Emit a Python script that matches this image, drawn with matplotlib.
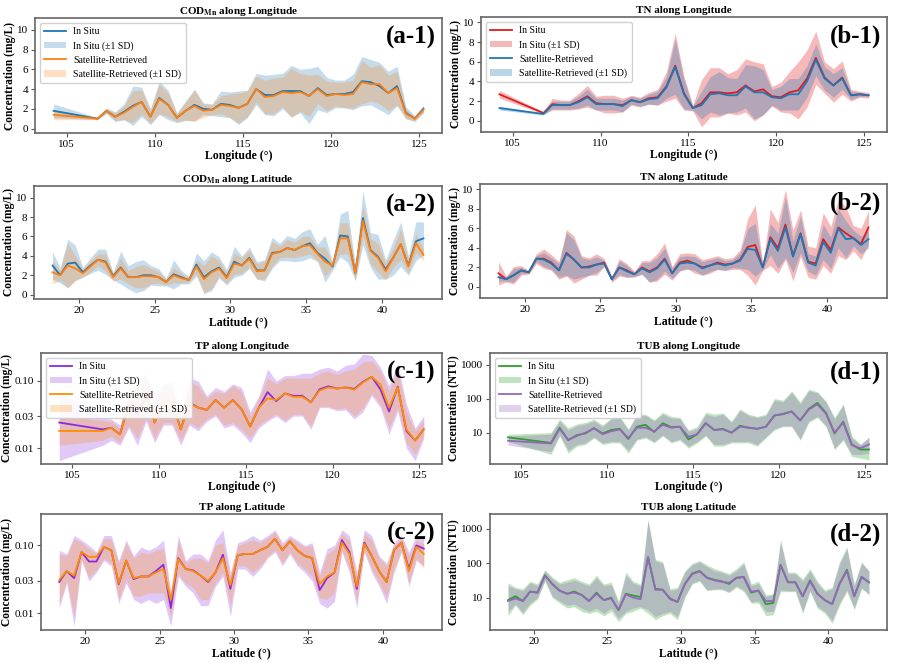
import numpy as np
import matplotlib
matplotlib.use("Agg")
import matplotlib.pyplot as plt
from matplotlib.ticker import FixedLocator, FormatStrFormatter, NullLocator, MultipleLocator

plt.rcParams['font.family'] = ['Liberation Serif', 'DejaVu Serif']
plt.rcParams['mathtext.fontset'] = 'stix'

# ======= Data: bin centres =======
lon = [104.25, 106.75, 107.25, 107.75, 108.25, 108.75, 109.25, 109.75, 110.25, 110.75,
       111.25, 111.75, 112.25, 112.75, 113.25, 113.75, 114.25, 114.75, 115.25, 115.75,
       116.25, 116.75, 117.25, 117.75, 118.25, 118.75, 119.25, 119.75, 120.25, 120.75,
       121.25, 121.75, 122.25, 122.75, 123.25, 123.75, 124.25, 124.75, 125.25]
lat = [18.25, 18.75, 19.25, 19.75, 20.25, 20.75, 21.25, 21.75, 22.25, 22.75,
       23.25, 23.75, 24.25, 24.75, 25.25, 25.75, 26.25, 26.75, 27.25, 27.75,
       28.25, 28.75, 29.25, 29.75, 30.25, 30.75, 31.25, 31.75, 32.25, 32.75,
       33.25, 33.75, 34.25, 34.75, 35.25, 35.75, 36.25, 36.75, 37.25, 37.75,
       38.25, 38.75, 39.25, 39.75, 40.25, 40.75, 41.25, 41.75, 42.25, 42.75]

# ======= COD_Mn (mean, sd) =======
cod_lon_insitu = [1.8, 1.0, 1.8, 1.2, 1.7, 2.3, 2.7, 1.2, 3.1, 2.4, 1.1, 1.8, 2.4, 2.0, 1.9, 2.5, 2.4, 2.1, 2.5, 4.0,
                  3.4, 3.4, 3.8, 3.8, 3.8, 3.3, 4.1, 3.4, 3.5, 3.5, 3.7, 4.8, 4.7, 4.3, 3.6, 4.3, 1.6, 1.0, 2.0]
cod_lon_insitu_sd = [0.7, 0.1, 0.3, 0.5, 0.8, 2.0, 1.5, 0.8, 1.7, 1.5, 0.5, 1.0, 1.6, 0.6, 0.6, 1.3, 1.3, 1.7, 1.4, 1.6,
                     2.0, 2.1, 1.8, 2.6, 2.2, 2.8, 2.2, 1.8, 1.4, 1.4, 1.8, 2.5, 2.3, 2.4, 2.2, 2.0, 0.6, 0.3, 0.4]
cod_lon_sat = [1.4, 1.0, 1.8, 1.2, 1.6, 2.2, 2.7, 1.2, 3.0, 2.4, 1.1, 1.8, 2.3, 1.8, 1.9, 2.4, 2.3, 2.1, 2.5, 4.0,
               3.2, 3.3, 3.7, 3.6, 3.7, 3.3, 4.0, 3.3, 3.5, 3.4, 3.5, 4.7, 4.5, 4.5, 3.6, 4.1, 1.5, 1.0, 1.9]
cod_lon_sat_sd = [0.5, 0.1, 0.2, 0.4, 0.7, 1.6, 1.2, 0.7, 1.5, 1.2, 0.4, 0.9, 1.6, 0.7, 0.5, 0.9, 1.2, 1.5, 1.3, 1.3,
                  1.7, 1.8, 1.5, 2.5, 1.9, 2.1, 1.5, 1.5, 1.2, 1.3, 1.4, 2.2, 1.7, 2.0, 1.8, 1.7, 0.5, 0.2, 0.3]

cod_lat_insitu = [3.0, 2.0, 3.2, 3.3, 2.3, 3.0, 3.6, 3.4, 1.9, 2.8, 1.8, 1.8, 2.0, 2.0, 1.8, 1.3, 2.1, 1.8, 1.5, 3.1,
                  1.8, 2.4, 2.8, 1.8, 3.4, 3.0, 3.8, 2.5, 2.5, 4.3, 4.4, 4.8, 4.6, 5.0, 5.3, 4.3, 3.7, 2.9, 6.1, 6.0,
                  2.2, 7.9, 4.6, 3.9, 2.6, 3.8, 5.2, 3.0, 5.5, 5.8]
cod_lat_insitu_sd = [1.4, 0.8, 2.5, 1.8, 0.5, 0.8, 1.1, 1.3, 0.4, 1.7, 1.2, 1.6, 1.6, 1.0, 0.9, 0.4, 1.5, 0.7, 0.4, 1.2,
                     1.7, 2.0, 1.1, 0.8, 1.6, 1.0, 1.1, 0.9, 1.1, 1.6, 0.9, 1.3, 1.2, 1.5, 1.5, 0.9, 2.4, 0.4, 2.2, 2.7,
                     0.8, 2.8, 1.8, 2.3, 1.0, 1.8, 2.3, 1.0, 2.0, 1.7]
cod_lat_sat = [2.3, 2.0, 3.0, 2.7, 2.2, 2.9, 3.6, 3.3, 1.8, 2.7, 1.8, 1.8, 1.9, 1.9, 1.8, 1.3, 2.0, 1.7, 1.5, 2.9,
               1.6, 2.3, 2.7, 1.7, 3.2, 3.0, 3.7, 2.4, 2.5, 4.2, 4.4, 4.8, 4.6, 5.0, 5.1, 4.2, 3.4, 3.0, 5.8, 5.8,
               2.2, 7.6, 4.5, 3.8, 2.4, 3.8, 5.2, 2.9, 5.3, 4.1]
cod_lat_sat_sd = [1.2, 0.5, 2.3, 1.3, 0.4, 0.6, 0.6, 0.9, 0.4, 1.1, 0.7, 1.1, 1.2, 0.8, 0.6, 0.3, 0.8, 0.5, 0.2, 0.7,
                  1.4, 1.7, 0.8, 0.6, 1.1, 0.8, 0.9, 0.8, 0.9, 1.3, 0.6, 0.9, 0.8, 1.0, 0.9, 0.7, 1.5, 0.2, 1.6, 1.6,
                  0.7, 1.6, 1.3, 1.5, 0.9, 1.0, 1.6, 0.7, 1.0, 0.6]

# ======= TN (mean, sd) =======
tn_lon_insitu = [2.7, 0.8, 1.7, 1.6, 1.6, 2.0, 2.5, 1.8, 1.7, 1.7, 1.6, 2.1, 1.9, 2.3, 2.4, 3.5, 5.6, 2.8, 1.3, 1.8,
                 2.9, 2.9, 2.8, 2.9, 3.6, 3.0, 3.2, 2.5, 2.4, 2.9, 3.1, 4.3, 6.4, 4.4, 3.6, 4.4, 2.6, 2.7, 2.6]
tn_lon_insitu_sd = [0.4, 0.1, 0.6, 0.5, 0.5, 0.8, 1.1, 0.7, 0.9, 0.9, 0.7, 0.5, 0.5, 0.6, 0.8, 1.5, 3.3, 1.7, 0.3, 2.4,
                    2.5, 2.5, 2.0, 2.3, 2.7, 3.0, 2.6, 1.0, 1.5, 2.1, 2.9, 2.9, 2.7, 1.6, 1.7, 1.7, 0.6, 0.3, 0.3]
tn_lon_sat = [1.3, 0.7, 1.6, 1.6, 1.6, 1.9, 2.4, 1.7, 1.7, 1.7, 1.5, 2.1, 1.9, 2.2, 2.3, 3.4, 5.5, 2.7, 1.3, 1.6,
              2.7, 2.8, 2.6, 2.6, 3.5, 2.9, 2.9, 2.4, 2.3, 2.7, 2.7, 4.0, 6.2, 4.3, 3.6, 4.3, 2.6, 2.7, 2.6]
tn_lon_sat_sd = [0.2, 0.1, 0.4, 0.4, 0.4, 0.6, 0.8, 0.6, 0.6, 0.6, 0.6, 0.4, 0.4, 0.5, 0.7, 1.1, 2.8, 1.5, 0.2, 1.4,
                 1.8, 2.2, 1.8, 1.7, 2.2, 2.7, 2.3, 0.8, 1.2, 1.6, 1.6, 1.6, 1.6, 1.2, 1.2, 1.1, 0.4, 0.2, 0.1]

tn_lat_insitu = [1.4, 0.8, 1.2, 1.7, 1.5, 2.9, 2.9, 2.5, 1.7, 3.5, 2.8, 2.0, 2.1, 2.3, 2.5, 0.8, 2.0, 1.7, 1.3, 2.0,
                 1.6, 2.0, 2.9, 1.4, 2.5, 2.7, 2.4, 2.0, 2.2, 2.5, 2.3, 2.4, 2.8, 4.1, 4.3, 2.0, 5.1, 4.0, 6.4, 3.2,
                 5.5, 2.6, 2.4, 4.9, 3.8, 6.1, 5.5, 5.0, 4.4, 6.1]
tn_lat_insitu_sd = [1.2, 0.3, 0.9, 0.5, 0.2, 0.5, 1.0, 0.8, 0.9, 2.4, 2.4, 1.2, 0.9, 1.1, 0.4, 0.3, 0.9, 0.7, 0.3, 0.7,
                    1.1, 1.4, 1.6, 0.7, 0.9, 0.8, 1.0, 0.8, 0.8, 0.7, 0.6, 0.6, 1.0, 2.9, 4.1, 0.3, 2.9, 2.6, 3.6, 2.6,
                    2.4, 1.6, 1.6, 2.7, 2.4, 2.9, 2.7, 1.3, 1.6, 1.7]
tn_lat_sat = [1.0, 0.8, 1.2, 1.7, 1.5, 2.9, 2.8, 2.4, 1.7, 3.4, 2.8, 2.0, 2.0, 2.3, 2.4, 0.8, 2.0, 1.6, 1.3, 1.9,
              1.5, 1.9, 2.8, 1.4, 2.4, 2.5, 2.4, 1.9, 2.2, 2.4, 2.2, 2.4, 2.7, 3.9, 3.8, 2.0, 4.9, 3.7, 6.1, 3.1,
              5.4, 2.5, 2.2, 4.6, 3.5, 6.0, 4.9, 5.0, 4.3, 4.9]
tn_lat_sat_sd = [0.4, 0.2, 0.7, 0.3, 0.1, 0.3, 0.7, 0.6, 0.7, 2.2, 2.0, 1.0, 0.8, 0.8, 0.3, 0.2, 0.7, 0.6, 0.2, 0.6,
                 1.0, 1.1, 1.2, 0.5, 0.7, 0.7, 0.7, 0.7, 0.6, 0.6, 0.5, 0.4, 0.8, 2.1, 2.7, 0.2, 1.6, 1.8, 3.1, 1.6,
                 1.9, 0.9, 1.0, 1.8, 1.6, 2.0, 1.9, 0.8, 0.9, 0.9]

# ======= TP (mean, band low / high; log axis) =======
tp_lon_insitu = [0.024, 0.019, 0.020, 0.016, 0.045, 0.031, 0.058, 0.024, 0.050, 0.050, 0.019, 0.048, 0.040, 0.037,
                 0.052, 0.040, 0.052, 0.038, 0.021, 0.040, 0.068, 0.050, 0.065, 0.060, 0.060, 0.048, 0.075, 0.083,
                 0.077, 0.080, 0.076, 0.097, 0.115, 0.075, 0.035, 0.082, 0.018, 0.013, 0.019]
tp_lon_insitu_lo = [0.0065, 0.011, 0.013, 0.011, 0.020, 0.011, 0.025, 0.012, 0.022, 0.022, 0.011, 0.022, 0.018, 0.025,
                    0.030, 0.020, 0.022, 0.017, 0.012, 0.020, 0.025, 0.030, 0.024, 0.030, 0.030, 0.019, 0.040, 0.040,
                    0.036, 0.037, 0.027, 0.035, 0.060, 0.040, 0.016, 0.035, 0.010, 0.0065, 0.014]
tp_lon_insitu_hi = [0.070, 0.028, 0.027, 0.022, 0.060, 0.090, 0.130, 0.060, 0.090, 0.095, 0.030, 0.110, 0.100, 0.060,
                    0.080, 0.070, 0.090, 0.080, 0.035, 0.060, 0.150, 0.100, 0.120, 0.120, 0.130, 0.130, 0.150, 0.160,
                    0.140, 0.170, 0.180, 0.250, 0.240, 0.160, 0.085, 0.180, 0.045, 0.020, 0.030]
tp_lon_sat = [0.018, 0.018, 0.020, 0.016, 0.045, 0.040, 0.058, 0.024, 0.050, 0.050, 0.019, 0.046, 0.040, 0.037,
              0.052, 0.040, 0.052, 0.038, 0.021, 0.040, 0.055, 0.052, 0.065, 0.058, 0.058, 0.048, 0.072, 0.080,
              0.077, 0.080, 0.074, 0.095, 0.115, 0.088, 0.040, 0.080, 0.019, 0.013, 0.019]
tp_lon_sat_lo = [0.011, 0.013, 0.015, 0.012, 0.022, 0.014, 0.028, 0.014, 0.024, 0.024, 0.013, 0.024, 0.020, 0.027,
                 0.032, 0.022, 0.024, 0.019, 0.014, 0.022, 0.027, 0.032, 0.026, 0.032, 0.032, 0.021, 0.042, 0.042,
                 0.038, 0.040, 0.030, 0.040, 0.065, 0.045, 0.020, 0.040, 0.012, 0.008, 0.015]
tp_lon_sat_hi = [0.030, 0.026, 0.025, 0.020, 0.080, 0.085, 0.110, 0.045, 0.085, 0.080, 0.028, 0.095, 0.085, 0.055,
                 0.070, 0.065, 0.085, 0.070, 0.030, 0.055, 0.110, 0.090, 0.110, 0.110, 0.110, 0.110, 0.130, 0.140,
                 0.125, 0.140, 0.150, 0.190, 0.200, 0.140, 0.070, 0.150, 0.035, 0.018, 0.026]

tp_lat_insitu = [0.029, 0.042, 0.033, 0.080, 0.058, 0.058, 0.095, 0.085, 0.027, 0.060, 0.032, 0.035, 0.035, 0.042,
                 0.052, 0.012, 0.065, 0.045, 0.043, 0.036, 0.029, 0.040, 0.073, 0.023, 0.072, 0.075, 0.075, 0.085,
                 0.095, 0.125, 0.085, 0.115, 0.085, 0.070, 0.065, 0.022, 0.033, 0.040, 0.120, 0.080, 0.023, 0.110,
                 0.070, 0.042, 0.029, 0.085, 0.110, 0.045, 0.100, 0.090]
tp_lat_insitu_lo = [0.012, 0.028, 0.0065, 0.060, 0.030, 0.040, 0.060, 0.050, 0.014, 0.028, 0.016, 0.014, 0.016, 0.014,
                    0.016, 0.0065, 0.035, 0.025, 0.020, 0.013, 0.013, 0.025, 0.035, 0.009, 0.045, 0.045, 0.035, 0.045,
                    0.065, 0.080, 0.050, 0.075, 0.050, 0.040, 0.030, 0.014, 0.012, 0.015, 0.080, 0.040, 0.012, 0.080,
                    0.040, 0.025, 0.014, 0.040, 0.080, 0.025, 0.060, 0.050]
tp_lat_insitu_hi = [0.085, 0.075, 0.140, 0.120, 0.100, 0.080, 0.140, 0.140, 0.060, 0.120, 0.070, 0.095, 0.085, 0.095,
                    0.120, 0.020, 0.140, 0.060, 0.075, 0.075, 0.060, 0.120, 0.170, 0.040, 0.110, 0.120, 0.140, 0.120,
                    0.140, 0.170, 0.110, 0.140, 0.120, 0.100, 0.110, 0.040, 0.090, 0.100, 0.170, 0.140, 0.040, 0.170,
                    0.140, 0.070, 0.055, 0.110, 0.140, 0.080, 0.140, 0.140]
tp_lat_sat = [0.031, 0.042, 0.036, 0.080, 0.068, 0.068, 0.095, 0.085, 0.028, 0.060, 0.033, 0.035, 0.035, 0.040,
              0.045, 0.016, 0.063, 0.045, 0.042, 0.036, 0.030, 0.040, 0.065, 0.026, 0.072, 0.075, 0.075, 0.085,
              0.095, 0.125, 0.085, 0.115, 0.085, 0.070, 0.065, 0.027, 0.035, 0.040, 0.110, 0.075, 0.025, 0.105,
              0.070, 0.042, 0.029, 0.085, 0.110, 0.042, 0.095, 0.075]
tp_lat_sat_lo = [0.014, 0.030, 0.009, 0.062, 0.034, 0.044, 0.064, 0.055, 0.016, 0.032, 0.018, 0.018, 0.020, 0.020,
                 0.020, 0.009, 0.038, 0.028, 0.024, 0.016, 0.016, 0.028, 0.040, 0.013, 0.050, 0.050, 0.040, 0.050,
                 0.068, 0.085, 0.055, 0.080, 0.055, 0.045, 0.035, 0.017, 0.016, 0.020, 0.085, 0.045, 0.015, 0.085,
                 0.045, 0.028, 0.017, 0.045, 0.085, 0.028, 0.065, 0.045]
tp_lat_sat_hi = [0.075, 0.070, 0.125, 0.110, 0.090, 0.075, 0.125, 0.125, 0.055, 0.110, 0.065, 0.080, 0.075, 0.085,
                 0.090, 0.020, 0.120, 0.055, 0.065, 0.065, 0.055, 0.100, 0.110, 0.035, 0.100, 0.110, 0.120, 0.110,
                 0.130, 0.160, 0.100, 0.130, 0.110, 0.095, 0.100, 0.035, 0.075, 0.090, 0.150, 0.120, 0.035, 0.150,
                 0.120, 0.065, 0.050, 0.100, 0.130, 0.070, 0.120, 0.105]

# ======= TUB (mean, band low / high; log axis) =======
tub_lon_insitu = [7.3, 5.0, 14, 6.0, 8.5, 9.5, 13.5, 9.5, 12, 13, 6.5, 15, 17, 10.5, 19, 14.5, 15, 6.3, 9, 19,
                  12, 13, 10, 16, 14, 13, 15, 32, 35, 42, 23, 50, 75, 38, 9.5, 21, 4.5, 3.2, 3.2]
tub_lon_insitu_lo = [5.5, 2.3, 8, 2.5, 4, 4.5, 7, 4.5, 5, 5, 2.5, 6, 7, 5, 8, 5, 6, 3.5, 5, 8,
                     4, 4, 5, 5, 5, 4, 7, 12, 15, 15, 6, 20, 28, 15, 3.2, 6, 2, 1.8, 1.6]
tub_lon_insitu_hi = [9, 10, 25, 14, 18, 20, 25, 17, 27, 30, 13, 35, 35, 24, 40, 30, 28, 12, 15, 40,
                     35, 38, 22, 50, 35, 30, 35, 100, 90, 170, 80, 190, 160, 85, 28, 70, 8, 4.5, 7]
tub_lon_sat = [5.8, 4.8, 13, 6.2, 8, 10, 13.5, 9, 11, 12.5, 7, 14, 14, 11, 17, 14, 15, 7.5, 9, 19,
               12, 12.5, 10, 15, 14, 13, 15, 32, 36, 42, 23, 48, 68, 36, 10, 20, 4.3, 3.5, 4.5]
tub_lon_sat_lo = [4.3, 2.8, 8.5, 3, 4.5, 5, 7.5, 5, 5.5, 5.5, 3, 6.5, 7.5, 5.5, 8.5, 5.5, 6.5, 4, 5.5, 8.5,
                  4.5, 4.5, 5.5, 5.5, 5.5, 4.5, 7.5, 13, 16, 16, 6.5, 22, 30, 16, 3.5, 6.5, 2.3, 2.3, 2.5]
tub_lon_sat_hi = [8, 9, 22, 12, 16, 18, 22, 15, 25, 27, 12, 32, 32, 22, 35, 27, 26, 11, 13, 35,
                  30, 35, 20, 45, 32, 28, 32, 90, 80, 150, 70, 170, 150, 80, 25, 65, 7, 4.5, 7.5]

tub_lat_insitu = [8.5, 11, 8, 15, 14, 45, 25, 16, 13, 15, 12, 8, 14, 8.5, 10, 4.3, 13, 11.5, 10.5, 150,
                  18, 17, 9.5, 7.5, 25, 50, 60, 38, 33, 30, 25, 38, 40, 14, 16, 6.5, 7, 90, 28, 28,
                  11, 32, 13, 8.5, 6.5, 25, 65, 11, 40, 28]
tub_lat_insitu_lo = [3, 6, 3.2, 6, 9, 30, 10, 7, 5, 5.5, 4, 3.5, 4, 3, 4, 2, 3.5, 4, 5, 3.5,
                     2.3, 3, 3.5, 2.3, 10, 25, 30, 16, 17, 17, 14, 20, 15, 7, 7, 3, 3.2, 15, 15, 15,
                     3.5, 15, 5, 3.5, 1.8, 6, 15, 4.5, 18, 13]
tub_lat_insitu_hi = [27, 20, 18, 30, 25, 65, 40, 28, 33, 38, 30, 25, 45, 25, 28, 8, 55, 30, 25, 1900,
                     130, 110, 18, 20, 60, 100, 120, 90, 70, 60, 50, 70, 110, 25, 30, 12, 13, 480, 55, 55,
                     35, 70, 30, 17, 20, 110, 300, 25, 110, 60]
tub_lat_sat = [8, 9.5, 8, 15, 14, 43, 25, 16, 13, 14, 12, 8, 13, 8.5, 9.5, 4.5, 12.5, 10, 9, 150,
               17, 17, 9, 7.5, 25, 48, 58, 38, 32, 29, 27, 37, 40, 15, 16, 8, 8, 88, 28, 28,
               11, 30, 13, 8.5, 6.5, 25, 60, 11, 40, 28]
tub_lat_sat_lo = [4, 6.5, 3.8, 7, 10, 32, 11, 8, 6, 6.5, 5, 4, 5, 3.5, 5, 2.5, 4, 5, 5.5, 4.5,
                  2.8, 3.5, 4, 2.8, 11, 27, 32, 17, 18, 18, 15, 22, 17, 7.5, 8, 4, 4, 17, 16, 16,
                  4, 16, 5.5, 4, 2.2, 7, 17, 5, 20, 12]
tub_lat_sat_hi = [22, 18, 16, 27, 22, 60, 35, 25, 28, 32, 26, 22, 38, 22, 24, 7, 45, 26, 22, 1700,
                  115, 100, 16, 18, 55, 90, 110, 80, 60, 55, 45, 60, 95, 22, 26, 11, 12, 420, 50, 50,
                  30, 60, 26, 15, 18, 95, 260, 22, 100, 60]


def sd_band(mean, sd):
    m = np.array(mean)
    s = np.array(sd)
    return m - s, m + s


def rect(l, t, r, b):
    # pixel box -> figure fraction
    return [l / 900, 1 - b / 663, (r - l) / 900, (b - t) / 663]


def draw(ax, x, m1, band1, c1, m2, band2, c2, title, xlabel, ylabel, tag,
         legend=False, log=False, ylim=None, a1=0.25, a2=0.25):
    ax.plot(x, m1, color=c1, lw=1.3, label='In Situ')
    ax.fill_between(x, band1[0], band1[1], color=c1, alpha=a1, lw=0, label='In Situ (±1 SD)')
    ax.plot(x, m2, color=c2, lw=1.3, label='Satellite-Retrieved')
    ax.fill_between(x, band2[0], band2[1], color=c2, alpha=a2, lw=0, label='Satellite-Retrieved (±1 SD)')
    if log:
        ax.set_yscale('log')
    else:
        ax.yaxis.set_major_locator(MultipleLocator(2))
    if ylim:
        ax.set_ylim(ylim)
    ax.set_title(title, fontsize=8, fontweight='bold', pad=3)
    ax.set_xlabel(xlabel, fontsize=8.5, fontweight='bold', labelpad=1)
    ax.set_ylabel(ylabel, fontsize=8.3, fontweight='bold', labelpad=1)
    ax.tick_params(labelsize=8, length=3, width=0.8, pad=2, color='#555555')
    for s in ax.spines.values():
        s.set_color('#666666')
        s.set_linewidth(1.2)
    ax.text(0.985, 0.93, tag, transform=ax.transAxes, ha='right', va='top',
            fontsize=18, fontweight='bold')
    if legend:
        ax.legend(loc='upper left', fontsize=7, framealpha=0.9, borderpad=0.45,
                  labelspacing=0.5, handlelength=2.2, handletextpad=0.8)


fig = plt.figure(figsize=(9, 6.63), dpi=100)

ax = fig.add_axes(rect(35, 18, 442, 133))
draw(ax, lon, cod_lon_insitu, sd_band(cod_lon_insitu, cod_lon_insitu_sd), '#1f77b4',
     cod_lon_sat, sd_band(cod_lon_sat, cod_lon_sat_sd), '#ff7f0e',
     r'COD$_{\mathbf{Mn}}$ along Longitude', 'Longitude (°)', 'Concentration (mg/L)', '(a-1)',
     legend=True, ylim=(-0.45, 11.2))

ax = fig.add_axes(rect(481, 17, 887, 132))
draw(ax, lon, tn_lon_insitu, sd_band(tn_lon_insitu, tn_lon_insitu_sd), '#e31a1c',
     tn_lon_sat, sd_band(tn_lon_sat, tn_lon_sat_sd), '#1f77b4',
     'TN along Longitude', 'Longitude (°)', 'Concentration (mg/L)', '(b-1)',
     legend=True, ylim=(-1.13, 10.55), a1=0.3, a2=0.3)

ax = fig.add_axes(rect(34, 186, 442, 299))
draw(ax, lat, cod_lat_insitu, sd_band(cod_lat_insitu, cod_lat_insitu_sd), '#1f77b4',
     cod_lat_sat, sd_band(cod_lat_sat, cod_lat_sat_sd), '#ff7f0e',
     r'COD$_{\mathbf{Mn}}$ along Latitude', 'Latitude (°)', 'Concentration (mg/L)', '(a-2)',
     ylim=(-0.45, 11.2))

ax = fig.add_axes(rect(480, 184, 887, 298))
draw(ax, lat, tn_lat_insitu, sd_band(tn_lat_insitu, tn_lat_insitu_sd), '#e31a1c',
     tn_lat_sat, sd_band(tn_lat_sat, tn_lat_sat_sd), '#1f77b4',
     'TN along Latitude', 'Latitude (°)', 'Concentration (mg/L)', '(b-2)',
     ylim=(-1.13, 10.55), a1=0.3, a2=0.3)

tp_axes = []
ax = fig.add_axes(rect(41, 353, 442, 464))
draw(ax, lon, tp_lon_insitu, (tp_lon_insitu_lo, tp_lon_insitu_hi), '#8a2be2',
     tp_lon_sat, (tp_lon_sat_lo, tp_lon_sat_hi), '#ff8c00',
     'TP along Longitude', 'Longitude (°)', 'Concentration (mg/L)', '(c-1)',
     legend=True, log=True, ylim=(0.0058, 0.26))
tp_axes.append(ax)

tub_axes = []
ax = fig.add_axes(rect(490, 353, 887, 464))
draw(ax, lon, tub_lon_insitu, (tub_lon_insitu_lo, tub_lon_insitu_hi), '#2ca02c',
     tub_lon_sat, (tub_lon_sat_lo, tub_lon_sat_hi), '#9467bd',
     'TUB along Longitude', 'Longitude (°)', 'Concentration (NTU)', '(d-1)',
     legend=True, log=True, ylim=(1.2, 2200), a1=0.3, a2=0.3)
tub_axes.append(ax)

ax = fig.add_axes(rect(41, 514, 442, 630))
draw(ax, lat, tp_lat_insitu, (tp_lat_insitu_lo, tp_lat_insitu_hi), '#8a2be2',
     tp_lat_sat, (tp_lat_sat_lo, tp_lat_sat_hi), '#ff8c00',
     'TP along Latitude', 'Latitude (°)', 'Concentration (mg/L)', '(c-2)',
     log=True, ylim=(0.0057, 0.29))
tp_axes.append(ax)

ax = fig.add_axes(rect(490, 514, 887, 630))
draw(ax, lat, tub_lat_insitu, (tub_lat_insitu_lo, tub_lat_insitu_hi), '#2ca02c',
     tub_lat_sat, (tub_lat_sat_lo, tub_lat_sat_hi), '#9467bd',
     'TUB along Latitude', 'Latitude (°)', 'Concentration (NTU)', '(d-2)',
     log=True, ylim=(1.15, 2700), a1=0.3, a2=0.3)
tub_axes.append(ax)

for ax in tp_axes:
    ax.yaxis.set_major_locator(FixedLocator([0.01, 0.03, 0.1]))
    ax.yaxis.set_major_formatter(FormatStrFormatter('%.2f'))
    ax.yaxis.set_minor_locator(NullLocator())
for ax in tub_axes:
    ax.yaxis.set_major_locator(FixedLocator([10, 100, 1000]))
    ax.yaxis.set_major_formatter(FormatStrFormatter('%d'))
    ax.yaxis.set_minor_locator(NullLocator())

fig.savefig('out.png', dpi=100)
